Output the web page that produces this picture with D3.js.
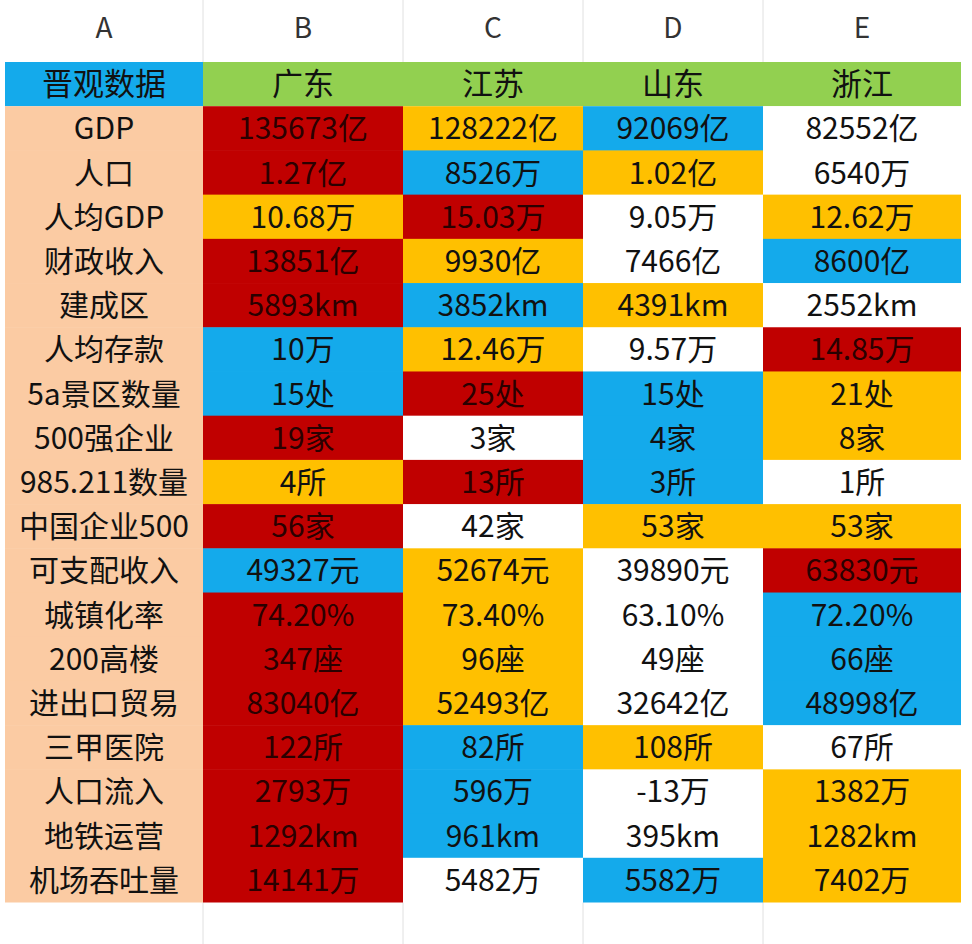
<!DOCTYPE html>
<html><head><meta charset="utf-8">
<script src="https://cdn.jsdelivr.net/npm/d3@7"></script>
<style>body{margin:0;background:#fff}</style>
</head><body><svg id="chart" width="972" height="944"></svg>
<script>
const colLetters = ['A', 'B', 'C', 'D', 'E'];
const provinces = ['广东', '江苏', '山东', '浙江'];
const metrics = ['GDP', '人口', '人均GDP', '财政收入', '建成区', '人均存款', '5a景区数量', '500强企业', '985.211数量', '中国企业500', '可支配收入', '城镇化率', '200高楼', '进出口贸易', '三甲医院', '人口流入', '地铁运营', '机场吞吐量'];
const values = [
  ['135673亿', '128222亿', '92069亿', '82552亿'],
  ['1.27亿', '8526万', '1.02亿', '6540万'],
  ['10.68万', '15.03万', '9.05万', '12.62万'],
  ['13851亿', '9930亿', '7466亿', '8600亿'],
  ['5893km', '3852km', '4391km', '2552km'],
  ['10万', '12.46万', '9.57万', '14.85万'],
  ['15处', '25处', '15处', '21处'],
  ['19家', '3家', '4家', '8家'],
  ['4所', '13所', '3所', '1所'],
  ['56家', '42家', '53家', '53家'],
  ['49327元', '52674元', '39890元', '63830元'],
  ['74.20%', '73.40%', '63.10%', '72.20%'],
  ['347座', '96座', '49座', '66座'],
  ['83040亿', '52493亿', '32642亿', '48998亿'],
  ['122所', '82所', '108所', '67所'],
  ['2793万', '596万', '-13万', '1382万'],
  ['1292km', '961km', '395km', '1282km'],
  ['14141万', '5482万', '5582万', '7402万']
];
// R red, Y yellow, L blue, W white
const fills = ['RYLW', 'RLYW', 'YRWY', 'RYWL', 'RLYW', 'LYWR', 'LRLY', 'RWLY', 'YRLW', 'RWYY', 'LYWR', 'RYWL', 'RYWL', 'RYWL', 'RLYW', 'RLWY', 'RLWY', 'RWLY'];
const palette = { R: '#c00000', Y: '#ffc000', L: '#14aaeb', W: '#ffffff' };

const svg = d3.select('#chart');
const font = '"Noto Sans CJK SC", Roboto, sans-serif';
const colEdges = [5, 203, 403, 583, 763, 961];
const x = i => colEdges[i];
const w = i => colEdges[i + 1] - colEdges[i];
const y = d3.scaleBand().domain(d3.range(19)).range([62, 902]);

// grid of the sheet
svg.selectAll('line.v').data([203, 403, 583, 763]).join('line')
  .attr('x1', d => d).attr('x2', d => d).attr('y1', 0).attr('y2', 944)
  .attr('stroke', '#e0e0e0');
svg.selectAll('text.col').data(colLetters).join('text')
  .attr('x', (d, i) => x(i) + w(i) / 2).attr('y', 38).attr('text-anchor', 'middle')
  .attr('font-family', font).attr('font-size', 28).attr('fill', '#333').text(d => d);

// header row
const header = ['晋观数据', ...provinces];
header.forEach((h, i) => {
  svg.append('rect').attr('x', x(i)).attr('y', y(0)).attr('width', w(i)).attr('height', y.bandwidth())
    .attr('fill', i === 0 ? '#14aaeb' : '#92d050');
  svg.append('text').attr('x', x(i) + w(i) / 2).attr('y', y(0) + y.bandwidth() / 2 + 11)
    .attr('text-anchor', 'middle').attr('font-family', font).attr('font-size', 31).attr('fill', '#111').text(h);
});

metrics.forEach((m, r) => {
  const ry = y(r + 1);
  svg.append('rect').attr('x', x(0)).attr('y', ry).attr('width', w(0)).attr('height', y.bandwidth() + 0.5).attr('fill', '#fbcba3');
  svg.append('text').attr('x', x(0) + w(0) / 2).attr('y', ry + y.bandwidth() / 2 + 11)
    .attr('text-anchor', 'middle').attr('font-family', font).attr('font-size', 30).attr('fill', '#111').text(m);
  values[r].forEach((v, c) => {
    svg.append('rect').attr('x', x(c + 1)).attr('y', ry).attr('width', w(c + 1)).attr('height', y.bandwidth() + 0.5)
      .attr('fill', palette[fills[r][c]]);
    svg.append('text').attr('x', x(c + 1) + w(c + 1) / 2).attr('y', ry + y.bandwidth() / 2 + 11)
      .attr('text-anchor', 'middle').attr('font-family', font).attr('font-size', 30)
      .attr('fill', fills[r][c] === 'R' ? '#2a0000' : '#111').text(v);
  });
});
</script></body></html>
